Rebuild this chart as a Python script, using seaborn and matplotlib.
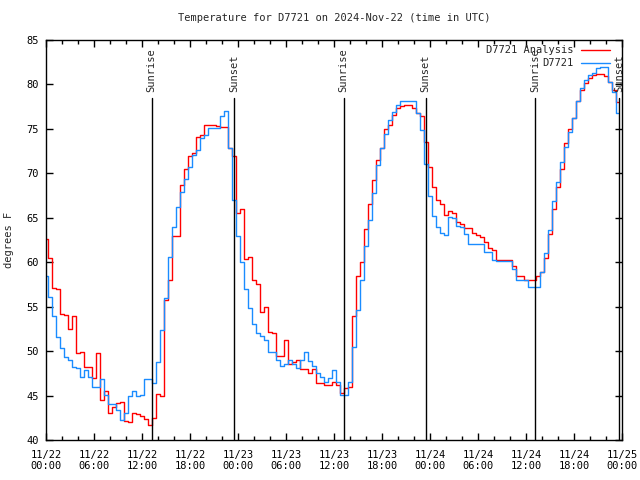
import pandas as pd
import matplotlib
matplotlib.use("Agg")
import matplotlib.pyplot as plt
import matplotlib.dates as mdates
import seaborn as sns

# half-hourly readings starting 2024-11-22 00:00 UTC
analysis = [62.6, 60.5, 57.1, 57.0, 54.2, 54.1, 52.5, 54.0, 49.8, 49.9,
            48.2, 48.2, 47.0, 49.8, 44.5, 45.5, 43.0, 43.7, 44.2, 44.3,
            42.1, 42.0, 43.0, 42.9, 42.7, 42.4, 41.7, 42.5, 45.2, 45.0,
            55.8, 58.0, 62.9, 63.0, 68.7, 70.5, 71.9, 72.3, 74.1, 74.3,
            75.4, 75.4, 75.4, 75.3, 75.25, 75.2, 72.8, 71.9, 65.5, 66.0,
            60.4, 60.6, 58.0, 57.6, 54.4, 55.0, 52.2, 52.0, 49.4, 49.5,
            51.2, 48.6, 48.8, 49.0, 48.0, 48.0, 47.5, 48.0, 46.4, 46.4,
            46.2, 46.2, 46.5, 46.2, 45.3, 45.8, 46.0, 54.0, 58.4, 60.0,
            63.7, 66.5, 69.3, 71.5, 72.9, 75.0, 75.4, 76.6, 77.3, 77.6,
            77.7, 77.7, 77.3, 76.8, 76.4, 73.5, 70.75, 68.5, 67.0, 66.5,
            65.3, 65.8, 65.5, 64.5, 64.3, 63.9, 63.8, 63.3, 63.1, 62.8,
            62.3, 61.6, 61.4, 60.25, 60.25, 60.25, 60.25, 59.6, 58.4, 58.4,
            58.0, 58.0, 58.0, 58.4, 58.9, 60.5, 63.2, 66.0, 68.5, 70.5,
            73.4, 75.0, 76.2, 78.1, 79.4, 80.2, 80.7, 81.1, 81.2, 81.2,
            80.9, 80.3, 79.4, 78.0]
station = [58.4, 56.1, 54.0, 51.6, 50.3, 49.3, 49.0, 48.2, 48.1, 47.1,
           47.9, 47.1, 46.0, 46.0, 46.9, 45.1, 44.05, 44.05, 43.4, 42.3,
           43.0, 45.0, 45.5, 45.0, 45.1, 46.9, 46.9, 46.4, 48.8, 52.4,
           56.0, 60.6, 64.0, 66.25, 67.9, 69.4, 70.75, 72.1, 72.6, 74.0,
           74.3, 75.06, 75.06, 75.06, 76.4, 77.05, 72.8, 67.0, 62.9, 60.0,
           57.0, 54.8, 53.1, 52.0, 51.7, 51.2, 49.9, 49.9, 49.0, 48.3,
           48.5, 49.0, 48.5, 48.1, 49.0, 49.9, 48.9, 48.3, 47.5, 47.1,
           46.5, 47.0, 47.9, 46.5, 45.06, 45.06, 46.5, 50.5, 54.6, 58.0,
           61.8, 64.8, 67.8, 70.9, 72.8, 74.4, 76.0, 76.9, 77.7, 78.1,
           78.1, 78.1, 78.1, 76.75, 74.9, 71.0, 67.4, 65.2, 64.0, 63.3,
           63.1, 65.1, 65.0, 64.1, 64.0, 63.2, 62.1, 62.1, 62.1, 62.1,
           61.2, 61.1, 60.3, 60.1, 60.1, 60.1, 60.1, 59.2, 58.0, 58.0,
           58.0, 57.2, 57.2, 57.2, 58.9, 61.0, 63.6, 66.9, 69.0, 71.3,
           73.0, 74.7, 76.2, 78.1, 79.6, 80.5, 81.1, 81.3, 81.8, 82.0,
           82.0, 80.3, 79.2, 76.75]

sun_times = ["2024-11-22 13:12", "2024-11-22 23:30", "2024-11-23 13:12",
             "2024-11-23 23:27", "2024-11-24 13:06", "2024-11-24 23:36"]
sun_labels = ["Sunrise", "Sunset", "Sunrise", "Sunset", "Sunrise", "Sunset"]

times = pd.date_range("2024-11-22 00:00", periods=len(analysis), freq="30min")
df = pd.DataFrame({"time": times, "D7721 Analysis": analysis, "D7721": station})

sns.set_style("ticks")
plt.rcParams["font.family"] = ["DejaVu Sans Mono"]
plt.rcParams["font.size"] = 7.5

fig = plt.figure(figsize=(6.4, 4.8), dpi=100)
ax = fig.add_axes([46 / 640, 40 / 480, 576 / 640, 400 / 480])

sns.lineplot(data=df, x="time", y="D7721 Analysis", color="#ff0000", lw=1.0,
             drawstyle="steps-mid", ax=ax, legend=False)
sns.lineplot(data=df, x="time", y="D7721", color="#1a8cff", lw=1.0,
             drawstyle="steps-mid", ax=ax, legend=False)

trans = matplotlib.transforms.blended_transform_factory(ax.transData, ax.transAxes)
for t, lab in zip(sun_times, sun_labels):
    xt = mdates.date2num(pd.Timestamp(t))
    ax.plot([xt, xt], [0, 0.855], color="black", lw=1.0, transform=trans)
    ax.text(xt, 0.87, lab, rotation=90, ha="center", va="bottom", transform=trans)

# legend, gnuplot style (text right aligned, sample to the right)
ax.text(0.915, 0.975, "D7721 Analysis", ha="right", va="center", transform=ax.transAxes)
ax.plot([0.929, 0.979], [0.975, 0.975], color="#ff0000", lw=1.0, transform=ax.transAxes)
ax.text(0.915, 0.9425, "D7721", ha="right", va="center", transform=ax.transAxes)
ax.plot([0.929, 0.979], [0.9425, 0.9425], color="#1a8cff", lw=1.0, transform=ax.transAxes)

ax.set_xlim(pd.Timestamp("2024-11-22 00:00"), pd.Timestamp("2024-11-25 00:00"))
ax.set_ylim(40, 85)
ax.set_yticks(range(40, 90, 5))
ax.xaxis.set_major_locator(mdates.HourLocator(byhour=range(0, 24, 6)))
ax.xaxis.set_minor_locator(mdates.HourLocator(byhour=range(0, 24, 2)))
ax.xaxis.set_major_formatter(mdates.DateFormatter("%m/%d\n%H:%M"))
ax.tick_params(which="both", direction="in", top=True, right=True, width=1, colors="black")
ax.tick_params(which="major", length=5, pad=5)
ax.tick_params(axis="x", which="major", pad=7)
ax.tick_params(which="minor", length=3)
for s in ax.spines.values():
    s.set_visible(True)
    s.set_linewidth(1.0)
    s.set_color("black")

ax.set_xlabel("")
ax.set_ylabel("degrees F", labelpad=9)
ax.set_title("Temperature for D7721 on 2024-Nov-22 (time in UTC)", fontsize=7.5, pad=14)

plt.savefig("out.png", dpi=100)
